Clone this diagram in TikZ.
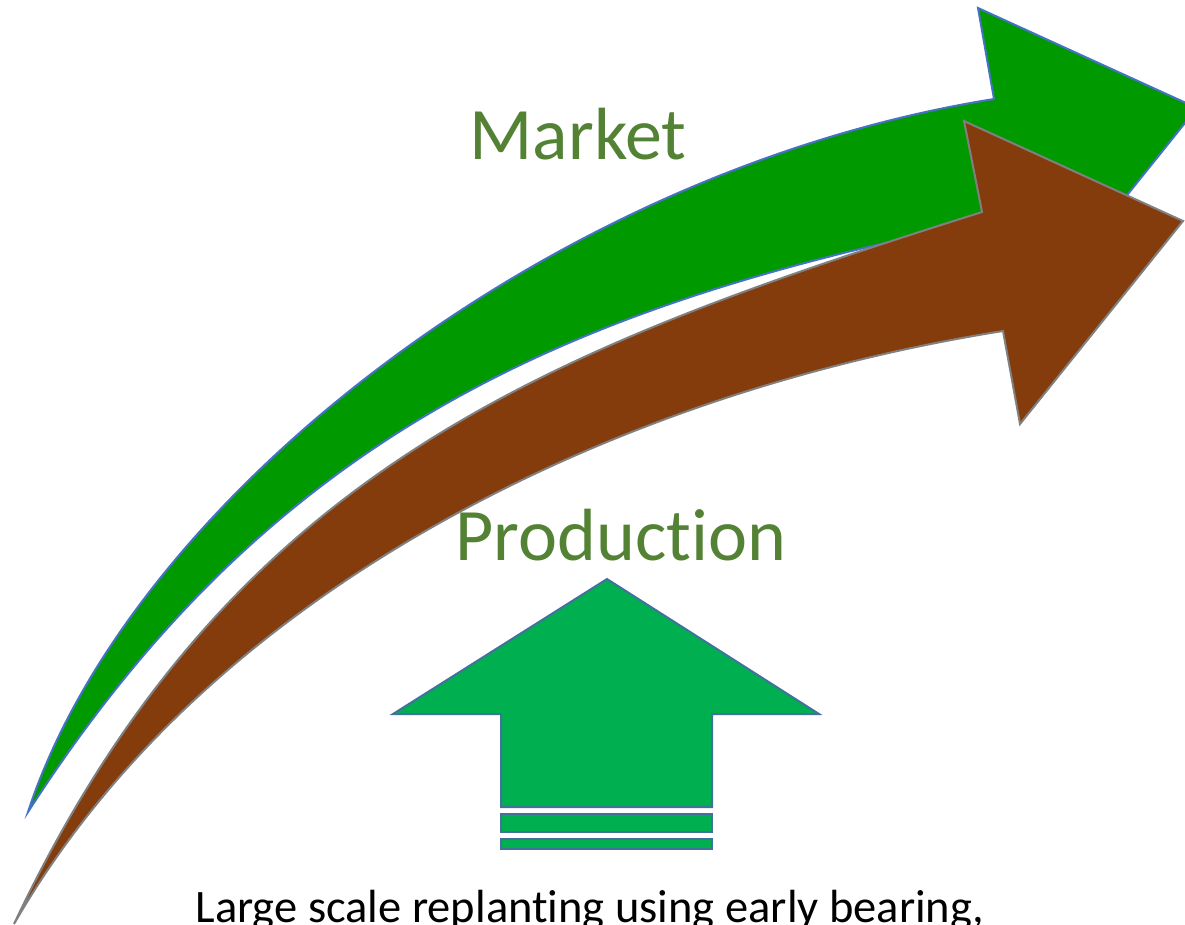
\documentclass[tikz,border=0pt]{standalone}
\usepackage{fontspec}
\setmainfont{Carlito}[Ligatures=NoCommon]
\usepackage{tikz}
\definecolor{mktgreen}{HTML}{009900}
\definecolor{prodbrown}{HTML}{843C0C}
\definecolor{upgreen}{HTML}{00B050}
\definecolor{edgeblue}{HTML}{4472C4}
\definecolor{edgeslate}{HTML}{41719C}
\definecolor{edgegray}{HTML}{808080}
\definecolor{labelgreen}{HTML}{548235}
\tikzset{
  marketarrow/.style={fill=mktgreen, draw=edgeblue, line width=2pt, line join=miter},
  prodarrow/.style={fill=prodbrown, draw=edgegray, line width=2pt, line join=miter},
  uparrow/.style={fill=upgreen, draw=edgeslate, line width=2pt},
  biglabel/.style={text=labelgreen, font=\fontsize{74}{80}\selectfont, anchor=base, inner sep=0pt},
  footlabel/.style={text=black, font=\fontsize{46.5}{52}\selectfont, anchor=base, inner sep=0pt}
}

\begin{document}
\begin{tikzpicture}[x=1pt, y=-1pt]
    \useasboundingbox (0,0) rectangle (1185,924);

    % market arrow (green)
    \path [marketarrow] (28,812) .. controls (130,500) and (550,170) .. (994,99)
        -- (978,8) -- (1197,108) -- (1034,311) -- (1017,215)
        .. controls (590,298) and (280,420) .. (28,812) -- cycle;

    % production arrow (brown)
    \path [prodarrow] (14,924) .. controls (229,469) and (545,350) .. (982,212)
        -- (964,121) -- (1183,221) -- (1020,424) -- (1003,331)
        .. controls (600,395) and (200,600) .. (14,924) -- cycle;

    % up arrow with stripes
    \path [uparrow] (607,579) -- (819,714) -- (712,714) -- (712,807)
        -- (501,807) -- (501,714) -- (393,714) -- cycle;
    \path [uparrow] (501,814) rectangle (712,832);
    \path [uparrow] (501,839) rectangle (712,849);

    \node (market) [biglabel] at (578,159) {Market};
    \node (production) [biglabel] at (621,560) {Production};
    \node (replant) [footlabel] at (590,922) {Large scale replanting using early bearing,};
\end{tikzpicture}
\end{document}
